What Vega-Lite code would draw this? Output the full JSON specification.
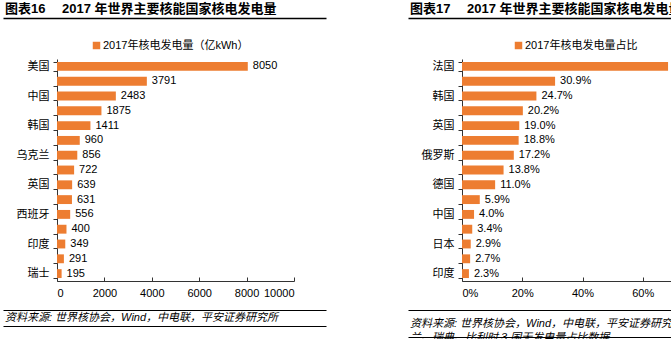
{
  "$schema": "https://vega.github.io/schema/vega-lite/v6.json",
  "padding": 0,
  "background": "white",
  "columns": 2,
  "align": "each",
  "spacing": {"row": 0, "column": 25},
  "resolve": {"scale": {"color": "independent"}, "legend": {"color": "independent"}},
  "config": {
    "font": "Liberation Sans, Noto Sans CJK SC, sans-serif",
    "view": {"stroke": null},
    "axis": {"labelFont": "Liberation Sans, Noto Sans CJK SC, sans-serif", "labelColor": "#000", "labelFontSize": 11, "domainColor": "#333", "tickColor": "#333", "grid": false},
    "legend": {"labelFont": "Liberation Sans, Noto Sans CJK SC, sans-serif"}
  },
  "concat": [
    {
      "width": 269, "height": 18,
      "data": {"values": [{"v": 0}]},
      "mark": {"type": "text", "text": "图表16\u2003 2017 年世界主要核能国家核电发电量", "align": "left", "baseline": "middle", "fontSize": 13, "fontWeight": "bold", "dx": 2, "color": "#000"},
      "encoding": {"x": {"field": "v", "type": "quantitative", "scale": {"domain": [0, 1], "range": [-54, 269]}, "axis": null}}
    },
    {
      "width": 269, "height": 18,
      "data": {"values": [{"v": 0}]},
      "mark": {"type": "text", "text": "图表17\u2003 2017 年世界主要核能国家核电发电量占比", "align": "left", "baseline": "middle", "fontSize": 13, "fontWeight": "bold", "dx": 2, "color": "#000"},
      "encoding": {"x": {"field": "v", "type": "quantitative", "scale": {"domain": [0, 1], "range": [-54, 269]}, "axis": null}}
    },
    {
      "width": 269, "height": 22,
      "data": {"values": [{"v": 0}]},
      "mark": {"type": "point", "opacity": 0},
      "encoding": {"x": {"field": "v", "type": "quantitative", "scale": {"domain": [0, 1], "range": [-54, 269]}, "axis": {"orient": "top", "title": null, "labels": false, "ticks": false, "domainColor": "#000", "domainWidth": 1.5}}}
    },
    {
      "width": 269, "height": 22,
      "data": {"values": [{"v": 0}]},
      "mark": {"type": "point", "opacity": 0},
      "encoding": {"x": {"field": "v", "type": "quantitative", "scale": {"domain": [0, 1], "range": [-54, 269]}, "axis": {"orient": "top", "title": null, "labels": false, "ticks": false, "domainColor": "#000", "domainWidth": 1.5}}}
    },
    {
      "width": 237, "height": 222,
      "data": {"values": [
        {"c": "美国", "v": 8050}, {"c": "法国", "v": 3791}, {"c": "中国", "v": 2483}, {"c": "俄罗斯", "v": 1875},
        {"c": "韩国", "v": 1411}, {"c": "加拿大", "v": 960}, {"c": "乌克兰", "v": 856}, {"c": "德国", "v": 722},
        {"c": "英国", "v": 639}, {"c": "瑞典", "v": 631}, {"c": "西班牙", "v": 556}, {"c": "比利时", "v": 400},
        {"c": "印度", "v": 349}, {"c": "日本", "v": 291}, {"c": "瑞士", "v": 195}
      ]},
      "encoding": {
        "y": {"field": "c", "type": "nominal", "sort": null, "scale": {"paddingInner": 0.4, "paddingOuter": 0.2},
          "axis": {"title": null, "tickBand": "extent", "tickSize": 4, "labelPadding": 4, "minExtent": 54,
            "labelExpr": "indexof(['美国','中国','韩国','乌克兰','英国','西班牙','印度','瑞士'], datum.value) >= 0 ? datum.label : ''"}},
        "x": {"field": "v", "type": "quantitative", "scale": {"domain": [0, 10000]},
          "axis": {"title": null, "values": [0, 2000, 4000, 6000, 8000, 10000], "format": "d", "tickSize": -4, "labelPadding": 10}}
      },
      "layer": [
        {"mark": {"type": "bar"},
         "encoding": {"color": {"datum": "2017年核电发电量（亿kWh）", "type": "nominal", "scale": {"range": ["#ED7D31"]},
           "legend": {"title": null, "orient": "none", "legendX": 34, "legendY": -19, "symbolType": "square", "symbolSize": 56, "symbolStrokeWidth": 0, "labelFontSize": 11, "labelOffset": 1, "labelColor": "#000"}}}},
        {"mark": {"type": "text", "align": "left", "baseline": "middle", "dx": 5, "fontSize": 11, "color": "#000"},
         "encoding": {"text": {"field": "v", "type": "quantitative", "format": "d"}}}
      ]
    },
    {
      "width": 241, "height": 222,
      "data": {"values": [
        {"c": "法国", "v": 0.684}, {"c": "瑞士", "v": 0.309}, {"c": "韩国", "v": 0.247}, {"c": "美国", "v": 0.202},
        {"c": "英国", "v": 0.190}, {"c": "西班牙", "v": 0.188}, {"c": "俄罗斯", "v": 0.172}, {"c": "加拿大", "v": 0.138},
        {"c": "德国", "v": 0.110}, {"c": "南非", "v": 0.059}, {"c": "中国", "v": 0.040}, {"c": "荷兰", "v": 0.034},
        {"c": "日本", "v": 0.029}, {"c": "巴西", "v": 0.027}, {"c": "印度", "v": 0.023}
      ]},
      "encoding": {
        "y": {"field": "c", "type": "nominal", "sort": null, "scale": {"paddingInner": 0.4, "paddingOuter": 0.2},
          "axis": {"title": null, "tickBand": "extent", "tickSize": 4, "labelPadding": 4, "minExtent": 54,
            "labelExpr": "indexof(['法国','韩国','英国','俄罗斯','德国','中国','日本','印度'], datum.value) >= 0 ? datum.label : ''"}},
        "x": {"field": "v", "type": "quantitative", "scale": {"domain": [0, 0.8]},
          "axis": {"title": null, "values": [0, 0.2, 0.4, 0.6, 0.8], "format": ".0%", "tickSize": -4, "labelPadding": 10}}
      },
      "layer": [
        {"mark": {"type": "bar"},
         "encoding": {"color": {"datum": "2017年核电发电量占比", "type": "nominal", "scale": {"range": ["#ED7D31"]},
           "legend": {"title": null, "orient": "none", "legendX": 51, "legendY": -19, "symbolType": "square", "symbolSize": 56, "symbolStrokeWidth": 0, "labelFontSize": 11, "labelOffset": 1, "labelColor": "#000"}}}},
        {"mark": {"type": "text", "align": "left", "baseline": "middle", "dx": 5, "fontSize": 11, "color": "#000"},
         "encoding": {"text": {"field": "v", "type": "quantitative", "format": ".1%"}}}
      ]
    },
    {
      "width": 269, "height": 12,
      "data": {"values": [{"v": 0}]},
      "mark": {"type": "point", "opacity": 0},
      "encoding": {"x": {"field": "v", "type": "quantitative", "scale": {"domain": [0, 1], "range": [-54, 269]}, "axis": {"orient": "bottom", "title": null, "labels": false, "ticks": false, "domainColor": "#000", "domainWidth": 1.2}}}
    },
    {
      "width": 269, "height": 12,
      "data": {"values": [{"v": 0}]},
      "mark": {"type": "point", "opacity": 0},
      "encoding": {"x": {"field": "v", "type": "quantitative", "scale": {"domain": [0, 1], "range": [-54, 269]}, "axis": {"orient": "bottom", "title": null, "labels": false, "ticks": false, "domainColor": "#000", "domainWidth": 1.2}}}
    },
    {
      "width": 269, "height": 16,
      "data": {"values": [{"v": 0}]},
      "mark": {"type": "text", "text": "资料来源: 世界核协会，Wind，中电联，平安证券研究所", "align": "left", "baseline": "middle", "fontSize": 11, "fontStyle": "italic", "dx": 2, "color": "#000"},
      "encoding": {"x": {"field": "v", "type": "quantitative", "scale": {"domain": [0, 1], "range": [-54, 269]}, "axis": {"orient": "bottom", "title": null, "labels": false, "ticks": false, "domainColor": "#000", "domainWidth": 1.2}}}
    },
    {
      "width": 269, "height": 27,
      "data": {"values": [{"v": 0}]},
      "mark": {"type": "text", "text": ["资料来源: 世界核协会，Wind，中电联，平安证券研究所\u2003注：乌克", "兰、瑞典、比利时 3 国无发电量占比数据"], "lineHeight": 14, "align": "left", "baseline": "middle", "fontSize": 11, "fontStyle": "italic", "dx": 2, "color": "#000"},
      "encoding": {"x": {"field": "v", "type": "quantitative", "scale": {"domain": [0, 1], "range": [-54, 269]}, "axis": {"orient": "bottom", "title": null, "labels": false, "ticks": false, "domainColor": "#000", "domainWidth": 1.2}}}
    }
  ]
}
